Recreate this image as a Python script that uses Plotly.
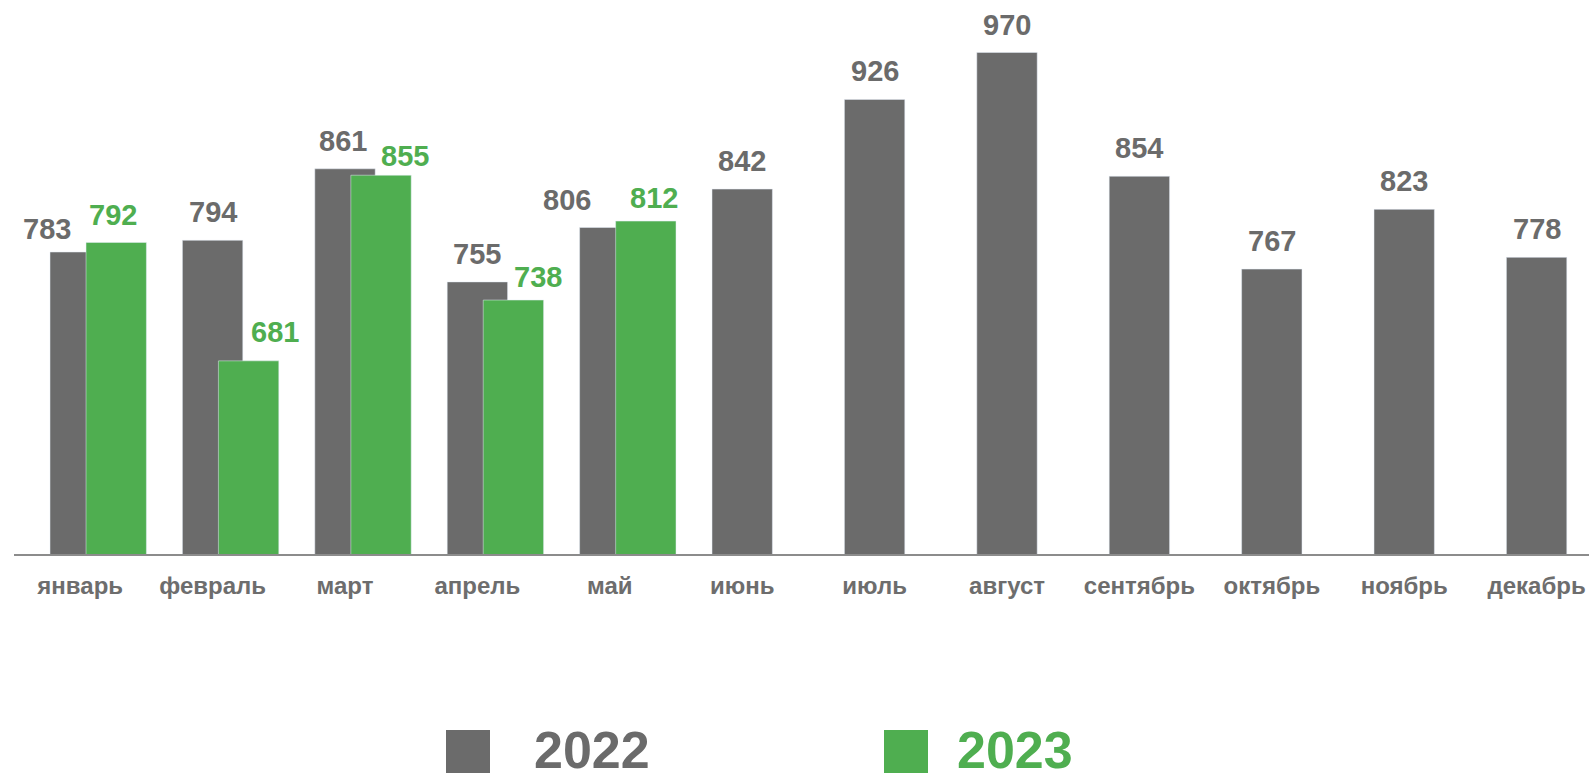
import plotly.graph_objects as go

# ---- data ----
months = ["январь", "февраль", "март", "апрель", "май", "июнь",
          "июль", "август", "сентябрь", "октябрь", "ноябрь", "декабрь"]
v2022 = [783, 794, 861, 755, 806, 842, 926, 970, 854, 767, 823, 778]
v2023 = [792, 681, 855, 738, 812, None, None, None, None, None, None, None]
series_names = ["2022", "2023"]

# ---- style ----
GRAY = "#6b6b6b"
GREEN = "#4fae50"
FONT = "Liberation Sans, Arial, sans-serif"
W, H = 1589, 773
ML, MT, MB = 14, 0, 219
PW, PH = W - ML, H - MT - MB
BAR_W = 0.456
OFF22 = -BAR_W / 2
OFF23 = OFF22 + 0.272
PX_PER_UNIT = 132.4
Y0 = 500
PX_PER_Y = 1.067

# manual label nudges (px) for readability, as in the original
dx22 = [-33, 0, -2, 0, -43, 0, 0, 0, 0, 0, 0, 0]
dy22 = [-5, 0, 0, 0, 0, 0, 0, 0, 0, 0, 0, 0]
dx23 = [-3, 26, 24, 25, 8, 0, 0, 0, 0, 0, 0, 0]
dy23 = [-1, 1, -9, -5, -5, 0, 0, 0, 0, 0, 0, 0]
GAP = 10  # base offset of label box above bar top
VAL_SIZE = 29

fig = go.Figure()
fig.add_trace(go.Bar(x=months, y=v2022, name=series_names[0], marker_color=GRAY,
                     width=BAR_W, offset=OFF22, hoverinfo="x+y"))
fig.add_trace(go.Bar(x=months, y=v2023, name=series_names[1], marker_color=GREEN,
                     width=BAR_W, offset=OFF23, hoverinfo="x+y"))

ann = []
for i, (m, v) in enumerate(zip(months, v2022)):
    ann.append(dict(x=m, y=v, xref="x", yref="y", text=str(v), showarrow=False,
                    yanchor="bottom", xanchor="center",
                    xshift=dx22[i], yshift=GAP + dy22[i],
                    font=dict(family=FONT, size=VAL_SIZE, color=GRAY, weight="bold")))
c23 = (OFF23 + BAR_W / 2) * PX_PER_UNIT
for i, (m, v) in enumerate(zip(months, v2023)):
    if v is None:
        continue
    ann.append(dict(x=m, y=v, xref="x", yref="y", text=str(v), showarrow=False,
                    yanchor="bottom", xanchor="center",
                    xshift=c23 + dx23[i], yshift=GAP + dy23[i],
                    font=dict(family=FONT, size=VAL_SIZE, color=GREEN, weight="bold")))


def px_x(p):
    return (p - ML) / PW


def px_y(p):
    return (MT + PH - p) / PH


# custom legend (large squares + big year labels)
shapes = []
for (x0, x1, col) in [(446, 490, GRAY), (884, 928, GREEN)]:
    shapes.append(dict(type="rect", xref="paper", yref="paper",
                       x0=px_x(x0), x1=px_x(x1), y0=px_y(730), y1=px_y(800),
                       fillcolor=col, line=dict(width=0)))
for (xl, txt, col) in [(532, series_names[0], GRAY), (955, series_names[1], GREEN)]:
    ann.append(dict(x=px_x(xl), y=px_y(719), xref="paper", yref="paper", text=txt,
                    showarrow=False, xanchor="left", yanchor="top",
                    font=dict(family=FONT, size=52, color=col, weight="bold")))

fig.update_layout(
    width=W, height=H,
    margin=dict(l=ML, r=0, t=MT, b=MB, pad=0),
    barmode="overlay",
    showlegend=False,
    plot_bgcolor="white", paper_bgcolor="white",
    annotations=ann, shapes=shapes,
    xaxis=dict(range=[-0.5, -0.5 + PW / PX_PER_UNIT], showgrid=False,
               showline=True, linecolor="#8c8c8c", linewidth=2,
               ticks="", zeroline=False, ticklabelstandoff=9,
               tickfont=dict(family=FONT, size=24, color="#6d6d6d", weight="bold")),
    yaxis=dict(range=[Y0, Y0 + PH / PX_PER_Y], visible=False, showgrid=False),
)

fig.write_html("out.html")
